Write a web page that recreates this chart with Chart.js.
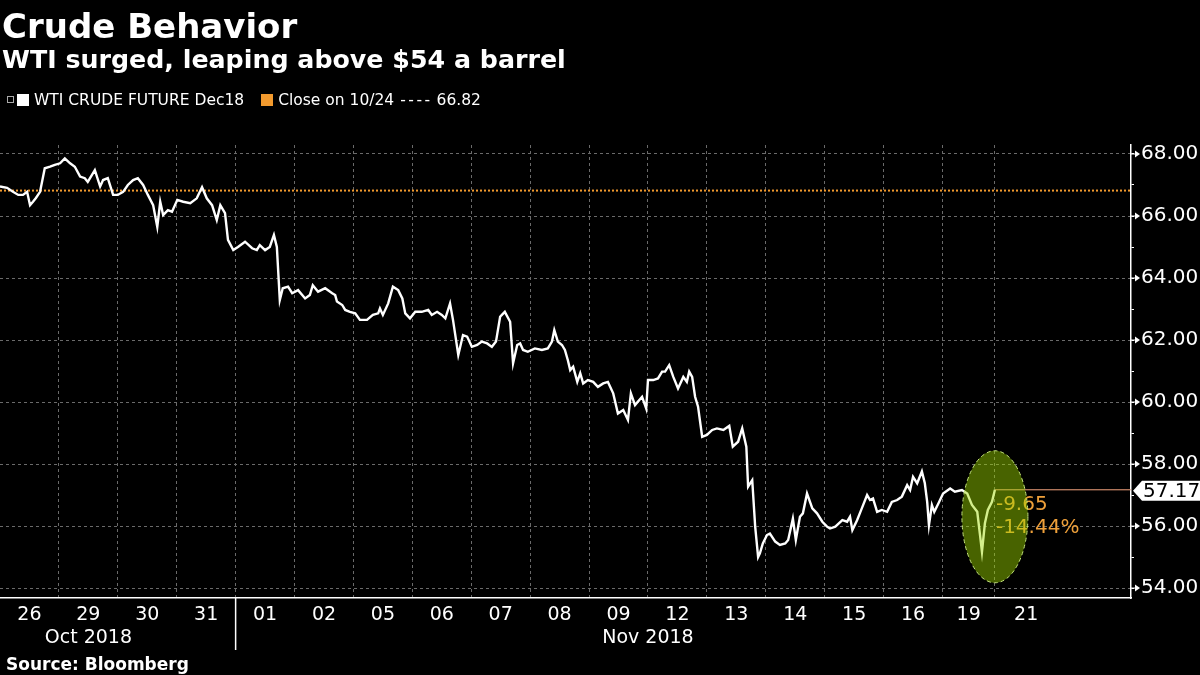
<!DOCTYPE html>
<html>
<head>
<meta charset="utf-8">
<script src="https://cdn.jsdelivr.net/npm/chart.js@4.4.0/dist/chart.umd.min.js"></script>
<style>
  body { margin: 0; background: #000; }
  #wrap { position: relative; width: 1200px; height: 675px; background: #000; overflow: hidden; }
  #wrap div { position: absolute; color: #fff; font-family: "DejaVu Sans", sans-serif; line-height: 1; white-space: nowrap; }
  .title { left: 2px; top: 9px; font-size: 34px; font-weight: bold; }
  .subtitle { left: 2px; top: 47px; font-size: 25.3px; font-weight: bold; }
  .legend { left: 0; top: 93px; font-size: 15.5px; }
  .legend span { display: inline-block; vertical-align: top; }
  .swatch { width: 12px; height: 12px; margin-top: 1px; }
  .dashes { letter-spacing: 2.5px; margin: 0 4px 0 6px; }
  .source { left: 6px; top: 656px; font-size: 17px; font-weight: bold; }
</style>
</head>
<body>
<div id="wrap">
  <canvas id="myChart" width="1200" height="675"></canvas>
  <div class="title">Crude Behavior</div>
  <div class="subtitle">WTI surged, leaping above $54 a barrel</div>
  <div class="legend" id="legend"></div>
  <div class="source">Source: Bloomberg</div>
</div>
<script>
//--------------------------------------------------DATA--------------------------------------------------
const seriesName = 'WTI CRUDE FUTURE Dec18';
const closeLabel = 'Close on 10/24';
const closeLevel = 66.82;

// trading sessions on the x axis (each session is one unit wide)
const dayLabels = ['26', '29', '30', '31', '01', '02', '05', '06', '07', '08', '09', '12', '13', '14', '15', '16', '19', '21'];
const sessionStart = [0, 1, 2, 3, 4, 5, 6, 7, 8, 9, 10, 11, 12, 13, 14, 15, 16, 16.89, 17.95];
const monthLabels = ['Oct 2018', 'Nov 2018'];
const monthAt = [1.5, 11];

// intraday position (in sessions) and price
const sessionPos = [
  0.00, 0.12, 0.22, 0.31, 0.39, 0.46, 0.51, 0.56, 0.61, 0.68, 0.76, 0.85, 0.93, 1.02, 1.10, 1.19, 1.27, 1.36, 1.44, 1.49,
  1.61, 1.70, 1.75, 1.83, 1.92, 2.00, 2.09, 2.17, 2.26, 2.34, 2.43, 2.51, 2.60, 2.67, 2.72, 2.77, 2.85, 2.92, 3.01, 3.11,
  3.23, 3.34, 3.43, 3.51, 3.60, 3.68, 3.74, 3.82, 3.87, 3.96, 4.04, 4.16, 4.28, 4.36, 4.41, 4.50, 4.58, 4.65, 4.70, 4.75,
  4.80, 4.89, 4.96, 5.06, 5.18, 5.26, 5.31, 5.40, 5.52, 5.64, 5.69, 5.72, 5.81, 5.86, 5.94, 6.03, 6.11, 6.23, 6.33, 6.42,
  6.45, 6.50, 6.59, 6.67, 6.76, 6.83, 6.88, 6.96, 7.05, 7.16, 7.27, 7.33, 7.42, 7.50, 7.56, 7.64, 7.69, 7.78, 7.86, 7.93,
  8.01, 8.10, 8.18, 8.27, 8.35, 8.42, 8.49, 8.52, 8.57, 8.66, 8.71, 8.78, 8.83, 8.88, 8.96, 9.08, 9.20, 9.30, 9.37, 9.41,
  9.47, 9.54, 9.59, 9.64, 9.68, 9.73, 9.80, 9.85, 9.90, 9.98, 10.07, 10.15, 10.24, 10.32, 10.41, 10.49, 10.58, 10.66, 10.71, 10.78,
  10.90, 10.97, 11.00, 11.09, 11.17, 11.24, 11.29, 11.36, 11.43, 11.51, 11.60, 11.66, 11.70, 11.75, 11.80, 11.85, 11.92, 12.00, 12.09, 12.17,
  12.28, 12.38, 12.44, 12.53, 12.60, 12.67, 12.70, 12.77, 12.82, 12.87, 12.90, 12.95, 13.02, 13.07, 13.16, 13.24, 13.33, 13.38, 13.46, 13.51,
  13.58, 13.63, 13.70, 13.79, 13.87, 13.96, 14.04, 14.09, 14.18, 14.30, 14.38, 14.43, 14.47, 14.55, 14.63, 14.72, 14.77, 14.82, 14.89, 14.97,
  15.06, 15.14, 15.23, 15.31, 15.40, 15.45, 15.50, 15.57, 15.65, 15.70, 15.74, 15.77, 15.82, 15.86, 15.93, 16.01, 16.13, 16.21, 16.33, 16.42,
  16.50, 16.59, 16.64, 16.67, 16.72, 16.77, 16.84, 16.89
];
const price = [
  66.95, 66.91, 66.78, 66.68, 66.68, 66.78, 66.35, 66.46, 66.58, 66.78, 67.54, 67.59, 67.65, 67.70, 67.86, 67.70, 67.59, 67.27, 67.22, 67.10,
  67.48, 66.95, 67.16, 67.22, 66.68, 66.68, 66.78, 67.00, 67.16, 67.22, 67.00, 66.68, 66.35, 65.65, 66.46, 66.03, 66.19, 66.14, 66.52, 66.46,
  66.41, 66.57, 66.93, 66.57, 66.35, 65.87, 66.35, 66.09, 65.23, 64.90, 65.00, 65.17, 64.96, 64.90, 65.06, 64.90, 65.00, 65.39, 65.00, 63.29,
  63.67, 63.72, 63.51, 63.61, 63.34, 63.45, 63.77, 63.56, 63.67, 63.51, 63.45, 63.24, 63.13, 62.97, 62.91, 62.86, 62.65, 62.65, 62.81, 62.86,
  63.02, 62.81, 63.18, 63.72, 63.61, 63.34, 62.86, 62.70, 62.91, 62.91, 62.97, 62.81, 62.91, 62.81, 62.70, 63.18, 62.65, 61.52, 62.16, 62.11,
  61.78, 61.84, 61.95, 61.89, 61.78, 61.95, 62.75, 62.81, 62.91, 62.59, 61.25, 61.84, 61.89, 61.68, 61.62, 61.73, 61.68, 61.73, 61.95, 62.32,
  61.95, 61.84, 61.68, 61.35, 61.03, 61.14, 60.65, 60.93, 60.60, 60.71, 60.65, 60.49, 60.60, 60.65, 60.28, 59.63, 59.74, 59.42, 60.28, 59.90,
  60.17, 59.79, 60.71, 60.71, 60.76, 60.98, 60.98, 61.19, 60.81, 60.44, 60.81, 60.65, 60.98, 60.81, 60.17, 59.85, 58.88, 58.94, 59.10, 59.15,
  59.10, 59.23, 58.56, 58.72, 59.15, 58.56, 57.27, 57.48, 55.98, 55.00, 55.12, 55.44, 55.71, 55.76, 55.50, 55.39, 55.44, 55.55, 56.24, 55.55,
  56.30, 56.41, 57.05, 56.57, 56.41, 56.14, 55.98, 55.92, 55.98, 56.19, 56.14, 56.30, 55.87, 56.19, 56.57, 57.00, 56.84, 56.89, 56.46, 56.52,
  56.46, 56.78, 56.84, 56.95, 57.32, 57.16, 57.59, 57.38, 57.76, 57.38, 56.78, 56.03, 56.68, 56.46, 56.73, 57.05, 57.21, 57.11, 57.16, 57.05,
  56.68, 56.46, 55.66, 55.17, 56.09, 56.52, 56.78, 57.17
];

const yMin = 53.68;
const yMax = 68.29;
const xMax = 19.2;

//--------------------------------------------------LEGEND--------------------------------------------------
document.getElementById('legend').innerHTML =
  '<span style="width:5px;height:5px;border:1px solid #aaa;margin:3px 2px 0 7px"></span>' +
  '<span class="swatch" style="background:#fff;margin-left:1px"></span>' +
  '<span style="margin-left:5px">' + seriesName + '</span>' +
  '<span class="swatch" style="background:#f29a2e;margin-left:17px"></span>' +
  '<span style="margin-left:5px">' + closeLabel + '<span class="dashes">----</span>' + closeLevel.toFixed(2) + '</span>';

//--------------------------------------------------X TICKS--------------------------------------------------
const lastPos = sessionPos[sessionPos.length - 1];
const gridTicks = sessionStart.filter(s => s > 0 && s <= lastPos + 0.001);
const labelTicks = dayLabels.map((d, i) => (sessionStart[i] + sessionStart[i + 1]) / 2);
const allTicks = [...new Set([...gridTicks, ...labelTicks, ...monthAt])].sort((a, b) => a - b);
const near = (a, b) => Math.abs(a - b) < 1e-6;

function xLabel(v) {
  const li = labelTicks.findIndex(c => near(c, v));
  const mi = monthAt.findIndex(m => near(m, v));
  const day = li >= 0 ? dayLabels[li] : '';
  if (mi >= 0) return [day, monthLabels[mi]];
  return day;
}

//--------------------------------------------------OVERLAYS--------------------------------------------------
const overlayPlugin = {
  id: 'overlayPlugin',
  afterDatasetsDraw(chart) {
    const { ctx, chartArea, scales: { x, y } } = chart;
    const last = price[price.length - 1];
    const lx = x.getPixelForValue(lastPos);
    const ly = y.getPixelForValue(last);
    const change = last - closeLevel;

    ctx.save();
    // last price line to the axis
    ctx.strokeStyle = '#f4a47e';
    ctx.lineWidth = 1;
    ctx.beginPath();
    ctx.moveTo(lx, ly);
    ctx.lineTo(chartArea.right, ly);
    ctx.stroke();

    // change vs close
    ctx.fillStyle = '#eea03a';
    ctx.font = '20px "DejaVu Sans"';
    ctx.textAlign = 'left';
    ctx.textBaseline = 'middle';
    ctx.fillText(change.toFixed(2), lx + 1, ly + 15);
    ctx.fillText((change / closeLevel * 100).toFixed(2) + '%', lx + 1, ly + 38);

    // highlight ellipse
    ctx.beginPath();
    ctx.ellipse(lx, y.getPixelForValue(56.3), 33, 66, 0, 0, Math.PI * 2);
    ctx.fillStyle = 'rgba(160, 220, 0, 0.45)';
    ctx.fill();
    ctx.setLineDash([4, 3]);
    ctx.strokeStyle = '#c4e47c';
    ctx.stroke();
    ctx.restore();
  },
  afterDraw(chart) {
    const { ctx, chartArea, scales: { x, y } } = chart;
    const last = price[price.length - 1];
    const ly = y.getPixelForValue(last);
    const r = chartArea.right;
    ctx.save();

    // pointers on the even price ticks
    ctx.fillStyle = '#fff';
    ctx.strokeStyle = '#fff';
    ctx.lineWidth = 1;
    y.ticks.forEach(t => {
      if (t.value % 2 !== 0) return;
      const ty = y.getPixelForValue(t.value);
      ctx.beginPath();
      ctx.moveTo(r, ty);
      ctx.lineTo(r + 5, ty);
      ctx.stroke();
      ctx.beginPath();
      ctx.moveTo(r + 4, ty - 3.5);
      ctx.lineTo(r + 9, ty);
      ctx.lineTo(r + 4, ty + 3.5);
      ctx.closePath();
      ctx.fill();
    });

    // last value tag
    ctx.beginPath();
    ctx.moveTo(r + 2, ly + 1);
    ctx.lineTo(r + 11, ly - 9);
    ctx.lineTo(chart.width, ly - 9);
    ctx.lineTo(chart.width, ly + 11);
    ctx.lineTo(r + 11, ly + 11);
    ctx.closePath();
    ctx.fill();
    ctx.fillStyle = '#000';
    ctx.font = '20px "DejaVu Sans"';
    ctx.textBaseline = 'middle';
    ctx.fillText(last.toFixed(2), r + 12, ly + 2);

    // month separator
    const mx = x.getPixelForValue(sessionStart[dayLabels.indexOf('01')]);
    ctx.strokeStyle = '#fff';
    ctx.lineWidth = 1.5;
    ctx.beginPath();
    ctx.moveTo(mx, chartArea.bottom);
    ctx.lineTo(mx, chartArea.bottom + 52);
    ctx.stroke();
    ctx.restore();
  }
};

//--------------------------------------------------CHART--------------------------------------------------
Chart.defaults.font.family = '"DejaVu Sans", sans-serif';
Chart.defaults.color = '#fff';

const myChart = new Chart('myChart', {
  type: 'line',
  data: {
    datasets: [{
      label: seriesName,
      data: sessionPos.map((s, i) => ({ x: s, y: price[i] })),
      borderColor: '#fff',
      borderWidth: 2.4,
      pointRadius: 0,
      tension: 0
    }, {
      label: closeLabel,
      data: [{ x: 0, y: closeLevel }, { x: xMax, y: closeLevel }],
      borderColor: '#f29a2e',
      borderWidth: 2,
      borderDash: [2, 2],
      pointRadius: 0
    }]
  },
  options: {
    responsive: false,
    animation: false,
    layout: { padding: { top: 145, left: 0, right: 0, bottom: 0 } },
    plugins: {
      legend: { display: false },
      tooltip: { enabled: false }
    },
    scales: {
      x: {
        type: 'linear',
        min: 0,
        max: xMax,
        afterBuildTicks(scale) {
          scale.ticks = allTicks.map(v => ({ value: v }));
        },
        afterFit(scale) { scale.height = 77; },
        grid: {
          drawTicks: false,
          color: c => (c.tick && gridTicks.some(g => near(g, c.tick.value))) ? '#6a6a6a' : 'transparent',
          lineWidth: 1
        },
        border: { color: '#fff', width: 1.5, dash: [3, 3] },
        ticks: {
          autoSkip: false,
          maxRotation: 0,
          padding: 6,
          color: '#fff',
          font: { size: 19, lineHeight: 1.2 },
          callback: v => xLabel(v)
        }
      },
      y: {
        position: 'right',
        min: yMin,
        max: yMax,
        afterFit(scale) { scale.width = 69; },
        grid: {
          color: c => (c.tick && c.tick.value % 2 === 0) ? '#6a6a6a' : 'transparent',
          tickColor: '#fff',
          tickLength: 3,
          lineWidth: 1
        },
        border: { color: '#fff', width: 1.5, dash: [3, 3] },
        ticks: {
          stepSize: 1,
          includeBounds: false,
          padding: 7,
          color: '#fff',
          font: { size: 20 },
          callback: v => (v % 2 === 0 ? v.toFixed(2) : '')
        }
      }
    }
  },
  plugins: [overlayPlugin]
});
</script>
</body>
</html>
